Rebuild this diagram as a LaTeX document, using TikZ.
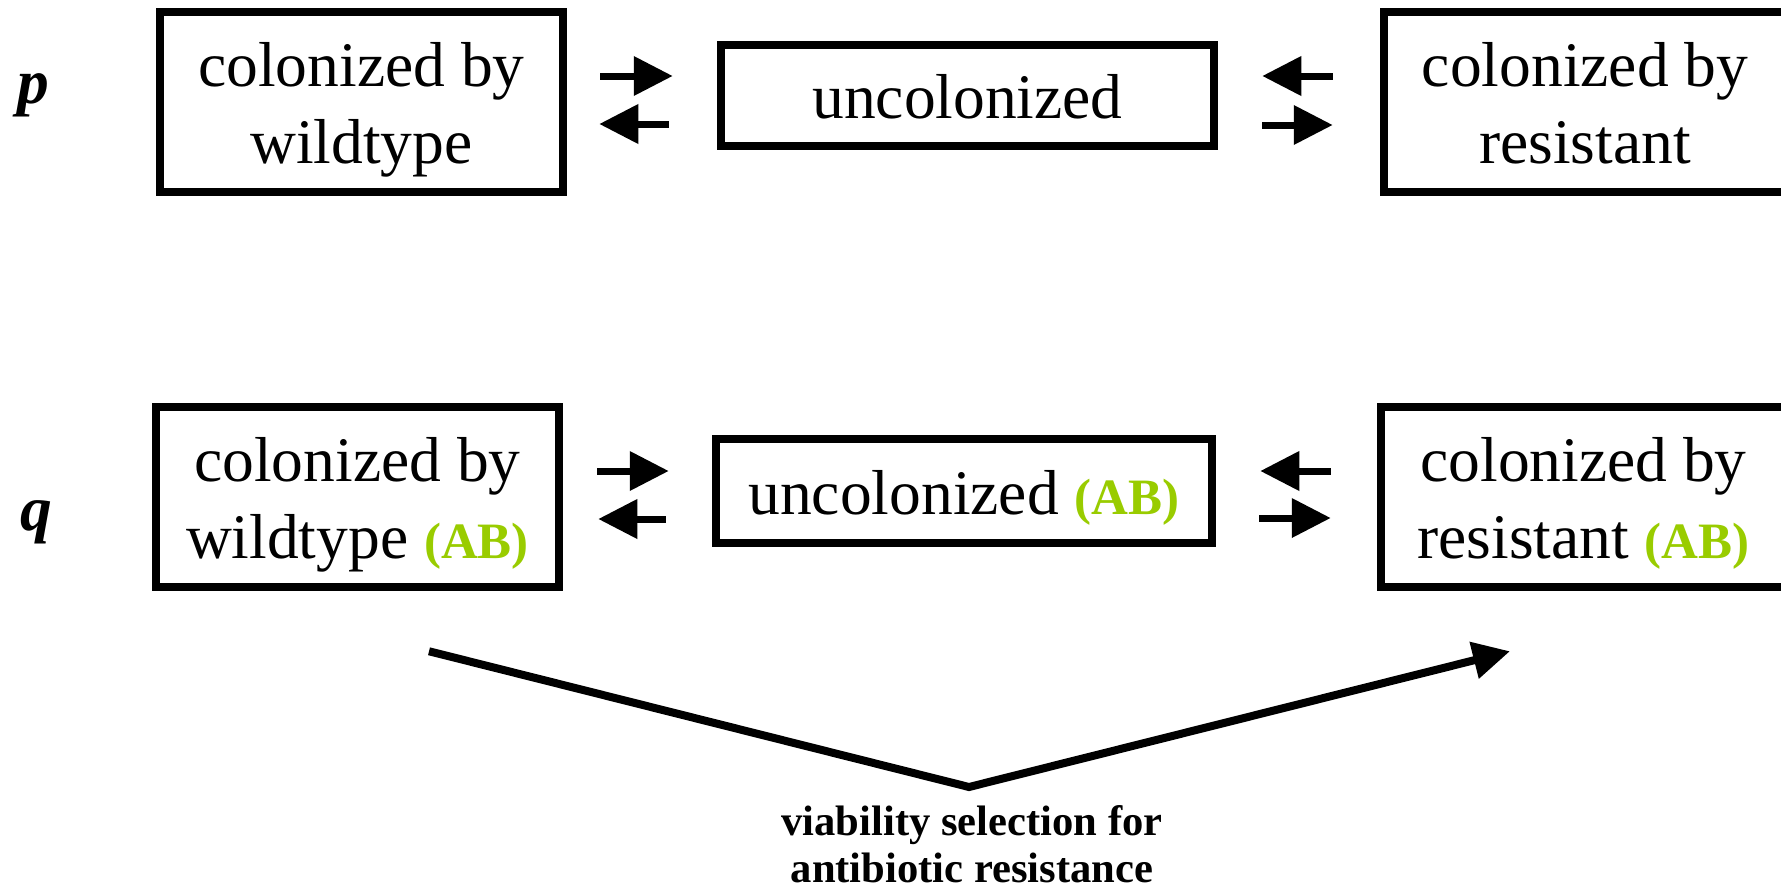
\documentclass[tikz,border=0pt]{standalone}
\usepackage{fontspec}
\setmainfont{Liberation Serif}
\usetikzlibrary{arrows.meta,calc}
\definecolor{abgreen}{RGB}{153,204,0}
\newcommand{\abtag}{{\fontsize{51pt}{60pt}\selectfont\textcolor{abgreen}{\textbf{(AB)}}}}

\begin{document}
\begin{tikzpicture}[x=1pt,y=-1pt,
  statebox/.style={draw=black, line width=8.5pt, inner sep=0pt, fill=white},
  boxtext/.style={inner sep=0pt, anchor=base, font=\fontsize{63.5pt}{77pt}\selectfont},
  varlabel/.style={inner sep=0pt, anchor=base, font=\fontsize{63.5pt}{77pt}\selectfont\bfseries\itshape},
  notetext/.style={inner sep=0pt, anchor=base, font=\fontsize{42.6pt}{47pt}\selectfont\bfseries},
  flow/.style={line width=7pt, -{Triangle[length=39pt,width=38pt]}},
  selarrow/.style={line width=8pt, line join=miter, -{Triangle[length=37pt,width=36pt]}}
]
\path[use as bounding box, clip] (0,0) rectangle (1781,889);

% ---- row p ----
\node[varlabel] (p) at (33,103) {p};
\node[statebox, minimum width=403pt, minimum height=180pt] (wt) at (361.5,102) {};
\node[statebox, minimum width=493pt, minimum height=101pt] (un) at (967.5,95.5) {};
\node[statebox, minimum width=402pt, minimum height=180pt] (rs) at (1585,102) {};

\node[boxtext] (wt1) at (361.5,86) {colonized by};
\node[boxtext] (wt2) at (361.5,163) {wildtype};
\node[boxtext] (un1) at (967.5,118.5) {uncolonized};
\node[boxtext] (rs1) at (1585,86) {colonized by};
\node[boxtext] (rs2) at (1585,163) {resistant};

\draw[flow] ($(wt.east)+(33,-26)$) -- ($(un.west)+(-44,-19.5)$);
\draw[flow] ($(un.west)+(-48,28.5)$) -- ($(wt.east)+(32,22)$);
\draw[flow] ($(rs.west)+(-47,-26)$) -- ($(un.east)+(44,-19.5)$);
\draw[flow] ($(un.east)+(44,29.5)$) -- ($(rs.west)+(-47,23)$);

% ---- row q ----
\node[varlabel] (q) at (36,530) {q};
\node[statebox, minimum width=403pt, minimum height=180pt] (wtq) at (357.5,497) {};
\node[statebox, minimum width=496pt, minimum height=104pt] (unq) at (964,491) {};
\node[statebox, minimum width=405pt, minimum height=180pt] (rsq) at (1583.5,497) {};

\node[boxtext] (wtq1) at (357.5,481) {colonized by};
\node[boxtext] (wtq2) at (357.5,558) {wildtype \abtag};
\node[boxtext] (unq1) at (964,514) {uncolonized \abtag};
\node[boxtext] (rsq1) at (1583.5,481) {colonized by};
\node[boxtext] (rsq2) at (1583.5,558) {resistant \abtag};

\draw[flow] ($(wtq.east)+(34,-26)$) -- ($(unq.west)+(-43,-20)$);
\draw[flow] ($(unq.west)+(-46,28)$) -- ($(wtq.east)+(35,22)$);
\draw[flow] ($(rsq.west)+(-46,-26)$) -- ($(unq.east)+(44,-20)$);
\draw[flow] ($(unq.east)+(43,27)$) -- ($(rsq.west)+(-46,21)$);

% ---- selection from wildtype to resistant ----
\coordinate (sel) at (969,787);
\draw[selarrow] ($(wtq.south)+(71.5,60)$) -- (sel) -- ($(rsq.south)+(-73.5,60)$);
\node[notetext] (note1) at (972,835) {viability selection for};
\node[notetext] (note2) at (972,882) {antibiotic resistance};
\end{tikzpicture}
\end{document}
